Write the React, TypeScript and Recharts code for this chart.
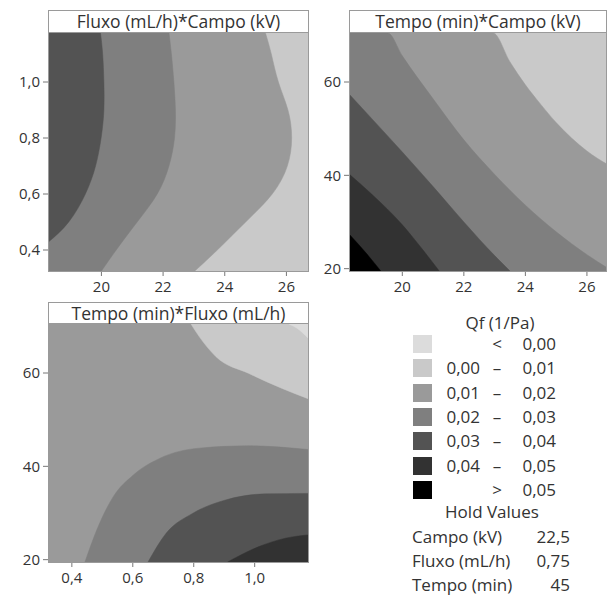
import React from 'react';
import { ComposedChart, Area, XAxis, YAxis, CartesianGrid } from 'recharts';

// ---- colours per Qf band ----
const bandLabels = [
  ['', '<', '0,00'],
  ['0,00', '–', '0,01'],
  ['0,01', '–', '0,02'],
  ['0,02', '–', '0,03'],
  ['0,03', '–', '0,04'],
  ['0,04', '–', '0,05'],
  ['', '>', '0,05'],
];
const bandColors = ['#dcdcdc', '#c9c9c9', '#9a9a9a', '#7f7f7f', '#535353', '#323232', '#000000'];

const holdLabels = ['Campo (kV)', 'Fluxo (mL/h)', 'Tempo (min)'];
const holdValues = ['22,5', '0,75', '45'];

// ---- Panel 1: Fluxo (y) vs Campo (x); boundaries as [fluxo, campo] ----
const p1Bound004 = [[0.43, 18.3], [0.5, 18.94], [0.6, 19.48], [0.7, 19.81], [0.8, 19.99], [0.9, 20.08], [1.0, 20.08], [1.1, 20.04], [1.175, 19.97]];
const p1Bound003 = [[0.325, 20.0], [0.4, 20.48], [0.5, 21.16], [0.6, 21.81], [0.7, 22.19], [0.8, 22.37], [0.9, 22.4], [1.0, 22.35], [1.1, 22.27], [1.175, 22.19]];
const p1Bound002 = [[0.325, 23.03], [0.4, 23.76], [0.5, 24.68], [0.6, 25.54], [0.7, 26.03], [0.8, 26.17], [0.9, 26.05], [1.0, 25.74], [1.1, 25.51], [1.175, 25.32]];

// ---- Panel 2: Tempo (y) vs Campo (x); boundaries as [campo, tempo] ----
const p2Bound001 = [[18.3, 70.5], [22.95, 70.5], [23.5, 64.3], [24, 59.4], [24.5, 55.2], [25, 51.3], [25.5, 48.0], [26, 45.2], [26.7, 42.2]];
const p2Bound002 = [[18.3, 70.5], [19.53, 70.5], [20, 65.6], [21, 56.4], [22, 47.6], [23, 40.2], [24, 33.6], [25, 27.9], [26, 23.0], [26.7, 20.0]];
const p2Bound003 = [[18.3, 57.2], [19, 52.2], [20, 45.0], [21, 37.6], [22, 30.0], [23, 22.8], [23.5, 19.5]];
const p2Bound004 = [[18.3, 40.1], [19, 36.0], [20, 29.4], [20.6, 24.6], [21.2, 19.5]];
const p2Bound005 = [[18.3, 27.2], [18.83, 23.3], [19.3, 19.5]];

// ---- Panel 3: Tempo (y) vs Fluxo (x); boundaries as [fluxo, tempo] ----
const p3Top001 = [[0.791, 70.5], [0.818, 67.8], [0.873, 63.5], [0.981, 59.9], [1.09, 56.7], [1.175, 54.5]];
const p3Top000 = [[1.112, 70.5], [1.139, 69.6], [1.175, 67.5]];
const p3Bound002 = [[0.443, 19.5], [0.482, 26.4], [0.536, 33.5], [0.601, 38.1], [0.688, 41.7], [0.818, 43.9], [0.981, 44.4], [1.175, 43.6]];
const p3Bound003 = [[0.65, 19.5], [0.71, 25.7], [0.796, 29.9], [0.905, 32.8], [1.036, 34.1], [1.175, 34.2]];
const p3Bound004 = [[0.911, 19.5], [1.014, 22.8], [1.101, 24.6], [1.175, 25.3]];

const campoTicks = [20, 22, 24, 26];
const fluxoTicks = [0.4, 0.6, 0.8, 1.0];
const tempoTicks = [20, 40, 60];

function mergeRows(key: string, series: Record<string, number[][]>) {
  const map = new Map<number, any>();
  Object.entries(series).forEach(([name, pts]) => {
    pts.forEach(([x, y]) => {
      if (!map.has(x)) map.set(x, { [key]: x });
      map.get(x)[name] = y;
    });
  });
  return Array.from(map.values()).sort((a, b) => a[key] - b[key]);
}

const p1Rows = mergeRows('f', { b2: p1Bound002, b3: p1Bound003, b4: p1Bound004 });
const p2Rows = mergeRows('c', { b1: p2Bound001, b2: p2Bound002, b3: p2Bound003, b4: p2Bound004, b5: p2Bound005 });
const p3Rows = mergeRows('f', { t1: p3Top001, t0: p3Top000, b2: p3Bound002, b3: p3Bound003, b4: p3Bound004 });

const FONT = '"Open Sans", "Noto Sans", sans-serif';
const TXT = '#333';
const FRAME = '#9a9a9a';
const tickStyle = { fontSize: 15, fill: TXT, fontFamily: FONT };
const comma = (v: number) => v.toFixed(1).replace('.', ',');

function Title({ left, top, width, height, text }: any) {
  return (
    <div style={{
      position: 'absolute', left, top, width, height, boxSizing: 'border-box',
      border: `1px solid ${FRAME}`, background: '#fff', textAlign: 'center',
      fontFamily: FONT, fontSize: 17.5, color: TXT, lineHeight: `${height - 2}px`, whiteSpace: 'nowrap',
    }}>{text}</div>
  );
}

function Frame({ left, top, width, height }: any) {
  return (
    <div style={{
      position: 'absolute', left, top, width, height, boxSizing: 'border-box',
      border: `1px solid ${FRAME}`, pointerEvents: 'none',
    }} />
  );
}

function area(key: string, fill: string, extra: any = {}) {
  return (
    <Area key={key} dataKey={key} type="monotone" fill={fill} fillOpacity={1} stroke={fill} strokeWidth={0.5}
      connectNulls isAnimationActive={false} dot={false} activeDot={false} {...extra} />
  );
}

export default function App() {
  return (
    <div style={{ position: 'absolute', left: 0, top: 0, width: 607, height: 595, background: '#fff', overflow: 'hidden' }}>
      {/* Panel 1 */}
      <div style={{ position: 'absolute', left: 0, top: 0 }}>
        <ComposedChart width={310} height={300} layout="vertical" data={p1Rows}
          margin={{ top: 33, right: 2, bottom: 0, left: 0 }}>
          <CartesianGrid fill={bandColors[1]} fillOpacity={1} stroke="none" horizontal={false} vertical={false} />
          <XAxis type="number" domain={[18.3, 26.7]} ticks={campoTicks} allowDataOverflow height={29}
            axisLine={false} tickLine={{ stroke: '#777' }} tickSize={5} tickMargin={5} tick={tickStyle} interval={0} />
          <YAxis type="number" dataKey="f" domain={[0.325, 1.175]} ticks={fluxoTicks} allowDataOverflow width={49}
            reversed axisLine={false} tickLine={{ stroke: '#777' }} tickSize={6} tickMargin={3} tick={tickStyle}
            tickFormatter={comma} interval={0} />
          {area('b2', bandColors[2], { type: 'natural' })}
          {area('b3', bandColors[3], { type: 'natural' })}
          {area('b4', bandColors[4], { type: 'natural' })}
        </ComposedChart>
      </div>
      <Frame left={48} top={32} width={261} height={240} />
      <Title left={48} top={10} width={261} height={23} text="Fluxo (mL/h)*Campo (kV)" />

      {/* Panel 2 */}
      <div style={{ position: 'absolute', left: 300, top: 0 }}>
        <ComposedChart width={306} height={300} data={p2Rows}
          margin={{ top: 33, right: 0, bottom: 0, left: 0 }}>
          <CartesianGrid fill={bandColors[1]} fillOpacity={1} stroke="none" horizontal={false} vertical={false} />
          <XAxis type="number" dataKey="c" domain={[18.3, 26.62]} ticks={campoTicks} allowDataOverflow height={29}
            axisLine={false} tickLine={{ stroke: '#777' }} tickSize={5} tickMargin={5} tick={tickStyle} interval={0} />
          <YAxis type="number" domain={[19.5, 70.5]} ticks={tempoTicks} allowDataOverflow width={50}
            axisLine={false} tickLine={{ stroke: '#777' }} tickSize={6} tickMargin={3} tick={tickStyle} interval={0} />
          {area('b1', bandColors[2])}
          {area('b2', bandColors[3])}
          {area('b3', bandColors[4])}
          {area('b4', bandColors[5])}
          {area('b5', bandColors[6])}
        </ComposedChart>
      </div>
      <Frame left={349} top={32} width={258} height={240} />
      <Title left={349} top={10} width={258} height={23} text="Tempo (min)*Campo (kV)" />

      {/* Panel 3 */}
      <div style={{ position: 'absolute', left: 0, top: 290 }}>
        <ComposedChart width={310} height={305} data={p3Rows}
          margin={{ top: 34, right: 2, bottom: 0, left: 0 }}>
          <CartesianGrid fill={bandColors[2]} fillOpacity={1} stroke="none" horizontal={false} vertical={false} />
          <XAxis type="number" dataKey="f" domain={[0.325, 1.175]} ticks={fluxoTicks} allowDataOverflow height={33}
            axisLine={false} tickLine={{ stroke: '#777' }} tickSize={5} tickMargin={5} tick={tickStyle}
            tickFormatter={comma} interval={0} />
          <YAxis type="number" domain={[19.5, 70.5]} ticks={tempoTicks} allowDataOverflow width={49}
            axisLine={false} tickLine={{ stroke: '#777' }} tickSize={6} tickMargin={3} tick={tickStyle} interval={0} />
          {area('t1', bandColors[1], { baseValue: 'dataMax' })}
          {area('t0', bandColors[0], { baseValue: 'dataMax' })}
          {area('b2', bandColors[3])}
          {area('b3', bandColors[4])}
          {area('b4', bandColors[5])}
        </ComposedChart>
      </div>
      <Frame left={48} top={323} width={261} height={240} />
      <Title left={48} top={302} width={261} height={22} text="Tempo (min)*Fluxo (mL/h)" />

      {/* Legend */}
      <div style={{ position: 'absolute', left: 0, top: 0, fontFamily: FONT, fontSize: 17, color: TXT }}>
        <div style={{ position: 'absolute', left: 440, top: 313, width: 120, textAlign: 'center', whiteSpace: 'nowrap', lineHeight: '20px' }}>Qf (1/Pa)</div>
        {bandLabels.map((lab, i) => {
          const cy = 344 + i * 24.3;
          return (
            <React.Fragment key={i}>
              <div style={{ position: 'absolute', left: 413, top: cy - 9, width: 19, height: 18, background: bandColors[i] }} />
              <div style={{ position: 'absolute', left: 420, top: cy - 10, width: 60, textAlign: 'right', lineHeight: '20px' }}>{lab[0]}</div>
              <div style={{ position: 'absolute', left: 485, top: cy - 10, width: 24, textAlign: 'center', lineHeight: '20px' }}>{lab[1]}</div>
              <div style={{ position: 'absolute', left: 500, top: cy - 10, width: 56, textAlign: 'right', lineHeight: '20px' }}>{lab[2]}</div>
            </React.Fragment>
          );
        })}
        <div style={{ position: 'absolute', left: 422, top: 502, width: 140, textAlign: 'center', whiteSpace: 'nowrap', lineHeight: '20px' }}>Hold Values</div>
        {holdLabels.map((lab, i) => {
          const cy = 537 + i * 24;
          return (
            <React.Fragment key={lab}>
              <div style={{ position: 'absolute', left: 412, top: cy - 10, lineHeight: '20px', whiteSpace: 'nowrap' }}>{lab}</div>
              <div style={{ position: 'absolute', left: 520, top: cy - 10, width: 50, textAlign: 'right', lineHeight: '20px' }}>{holdValues[i]}</div>
            </React.Fragment>
          );
        })}
      </div>
    </div>
  );
}
